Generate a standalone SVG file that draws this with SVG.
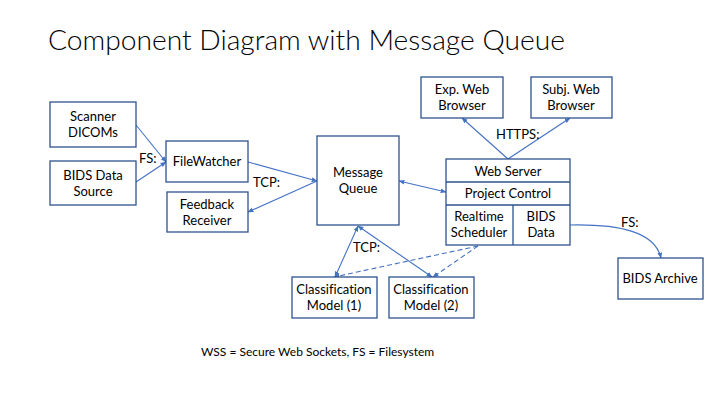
<svg xmlns="http://www.w3.org/2000/svg" width="720" height="405" viewBox="0 0 720 405">
<style>
text{font-variant-ligatures:none}
.box{fill:#fff;stroke:#2F528F;stroke-width:1.3}
.t{font-family:Lato,"Open Sans","DejaVu Sans",sans-serif;font-size:13px;fill:#000;text-anchor:middle}
.lbl{font-family:Lato,"Open Sans","DejaVu Sans",sans-serif;font-size:13px;fill:#000}
.c{fill:none;stroke:#4472C4;stroke-width:1.1}
.d{stroke-dasharray:5 3}
</style>
<defs>
<marker id="ah" viewBox="0 0 10 10" refX="9" refY="5" markerWidth="6" markerHeight="6" orient="auto-start-reverse" markerUnits="userSpaceOnUse">
<path d="M0,1 L10,5 L0,9 z" fill="#4472C4"/>
</marker>
</defs>
<rect width="720" height="405" fill="#fff"/>
<text x="48" y="50" font-family="Lato,'Open Sans','DejaVu Sans',sans-serif" font-size="28.2" font-weight="300" fill="#000">Component Diagram with Message Queue</text>

<g id="connectors">
<line class="c" x1="136" y1="125" x2="166" y2="162" marker-end="url(#ah)"/>
<line class="c" x1="136" y1="182" x2="166" y2="162" marker-end="url(#ah)"/>
<line class="c" x1="248" y1="162" x2="317" y2="181" marker-end="url(#ah)"/>
<line class="c" x1="317" y1="181" x2="248" y2="212" marker-end="url(#ah)"/>
<line class="c" x1="399" y1="181" x2="446" y2="192" marker-start="url(#ah)" marker-end="url(#ah)"/>
<line class="c" x1="358" y1="226" x2="335" y2="277" marker-start="url(#ah)" marker-end="url(#ah)"/>
<line class="c" x1="358" y1="226" x2="432" y2="277" marker-start="url(#ah)" marker-end="url(#ah)"/>
<line class="c d" x1="478" y1="246" x2="334" y2="277" marker-end="url(#ah)"/>
<line class="c d" x1="478" y1="246" x2="433" y2="277" marker-end="url(#ah)"/>
<line class="c" x1="508" y1="159" x2="462" y2="118" marker-end="url(#ah)"/>
<line class="c" x1="508" y1="159" x2="570" y2="118" marker-end="url(#ah)"/>
<path class="c" d="M570,225 C620,224 655,232 661,258" marker-end="url(#ah)"/>
<text class="lbl" x="139" y="163">FS:</text>
<text class="lbl" x="253" y="187">TCP:</text>
<text class="lbl" x="353" y="252">TCP:</text>
<text class="lbl" x="496" y="139">HTTPS:</text>
<text class="lbl" x="621" y="227">FS:</text>
</g>

<g id="scanner">
<rect class="box" x="50" y="102" width="86" height="45"/>
<text class="t" x="93" y="121">Scanner</text>
<text class="t" x="93" y="137">DICOMs</text>
</g>
<g id="bids-source">
<rect class="box" x="50" y="161" width="86" height="44"/>
<text class="t" x="93" y="180">BIDS Data</text>
<text class="t" x="93" y="196">Source</text>
</g>
<g id="filewatcher">
<rect class="box" x="166" y="141" width="82" height="41"/>
<text class="t" x="207" y="166">FileWatcher</text>
</g>
<g id="feedback">
<rect class="box" x="167" y="192" width="81" height="40"/>
<text class="t" x="207" y="209">Feedback</text>
<text class="t" x="207" y="225">Receiver</text>
</g>
<g id="message-queue">
<rect class="box" x="317" y="136" width="82" height="89"/>
<text class="t" x="358" y="177">Message</text>
<text class="t" x="358" y="193">Queue</text>
</g>
<g id="web-server">
<rect class="box" x="446" y="159" width="124" height="86"/>
<line class="box" x1="446" y1="182" x2="570" y2="182"/>
<line class="box" x1="446" y1="205" x2="570" y2="205"/>
<line class="box" x1="513" y1="205" x2="513" y2="245"/>
<text class="t" x="508" y="176">Web Server</text>
<text class="t" x="508" y="198">Project Control</text>
<text class="t" x="479" y="221">Realtime</text>
<text class="t" x="479" y="237">Scheduler</text>
<text class="t" x="541" y="221">BIDS</text>
<text class="t" x="541" y="237">Data</text>
</g>
<g id="exp-browser">
<rect class="box" x="421" y="77" width="82" height="41"/>
<text class="t" x="462" y="94">Exp. Web</text>
<text class="t" x="462" y="110">Browser</text>
</g>
<g id="subj-browser">
<rect class="box" x="531" y="77" width="81" height="41"/>
<text class="t" x="571" y="94">Subj. Web</text>
<text class="t" x="571" y="110">Browser</text>
</g>
<g id="class-model-1">
<rect class="box" x="292" y="277" width="85" height="41"/>
<text class="t" x="334" y="294">Classification</text>
<text class="t" x="334" y="310">Model (1)</text>
</g>
<g id="class-model-2">
<rect class="box" x="389" y="277" width="85" height="41"/>
<text class="t" x="431" y="294">Classification</text>
<text class="t" x="431" y="310">Model (2)</text>
</g>
<g id="bids-archive">
<rect class="box" x="618" y="258" width="85" height="41"/>
<text class="t" x="660" y="283">BIDS Archive</text>
</g>
<text x="201" y="356" font-family="Lato,'Open Sans','DejaVu Sans',sans-serif" font-size="12" fill="#000">WSS = Secure Web Sockets, FS = Filesystem</text>
</svg>
